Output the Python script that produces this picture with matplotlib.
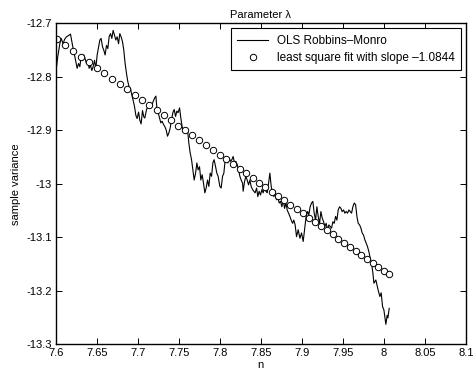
import matplotlib
matplotlib.use("Agg")
import matplotlib.pyplot as plt
from matplotlib.ticker import FuncFormatter

plt.rcParams['font.family'] = ['Liberation Sans', 'DejaVu Sans']
plt.rcParams['axes.unicode_minus'] = False

# OLS Robbins-Monro trace (log n, sample variance)
rm_x = [7.6009, 7.6024, 7.6049, 7.6065, 7.6089, 7.6106, 7.6130, 7.6162, 7.6179, 7.6195,
        7.6211, 7.6228, 7.6244, 7.6260, 7.6277, 7.6293, 7.6309, 7.6326, 7.6341, 7.6357,
        7.6374, 7.6390, 7.6406, 7.6423, 7.6439, 7.6455, 7.6472, 7.6488, 7.6504, 7.6521,
        7.6537, 7.6552, 7.6570, 7.6585, 7.6601, 7.6618, 7.6634, 7.6650, 7.6667, 7.6683,
        7.6699, 7.6716, 7.6732, 7.6748, 7.6765, 7.6780, 7.6796, 7.6813, 7.6829, 7.6845,
        7.6862, 7.6878, 7.6894, 7.6911, 7.6927, 7.6943, 7.6960, 7.6976, 7.6991, 7.7009,
        7.7024, 7.7040, 7.7057, 7.7073, 7.7085, 7.7106, 7.7126, 7.7146, 7.7167, 7.7187,
        7.7207, 7.7220, 7.7232, 7.7248, 7.7265, 7.7280, 7.7296, 7.7313, 7.7329, 7.7345,
        7.7362, 7.7378, 7.7394, 7.7411, 7.7427, 7.7443, 7.7460, 7.7476, 7.7491, 7.7509,
        7.7524, 7.7540, 7.7557, 7.7573, 7.7589, 7.7606, 7.7622, 7.7638, 7.7655, 7.7671,
        7.7687, 7.7704, 7.7720, 7.7735, 7.7752, 7.7768, 7.7784, 7.7801, 7.7817, 7.7833,
        7.7850, 7.7866, 7.7882, 7.7899, 7.7915, 7.7930, 7.7948, 7.7963, 7.7979, 7.8000,
        7.8016, 7.8033, 7.8049, 7.8065, 7.8082, 7.8098, 7.8113, 7.8130, 7.8146, 7.8162,
        7.8179, 7.8195, 7.8211, 7.8228, 7.8244, 7.8260, 7.8277, 7.8284, 7.8301, 7.8317,
        7.8333, 7.8350, 7.8366, 7.8382, 7.8399, 7.8415, 7.8430, 7.8448, 7.8463, 7.8479,
        7.8496, 7.8512, 7.8528, 7.8545, 7.8561, 7.8577, 7.8594, 7.8610, 7.8626, 7.8643,
        7.8659, 7.8674, 7.8691, 7.8707, 7.8723, 7.8740, 7.8756, 7.8772, 7.8789, 7.8805,
        7.8821, 7.8838, 7.8854, 7.8870, 7.8887, 7.8902, 7.8918, 7.8935, 7.8955, 7.8976,
        7.8996, 7.9016, 7.9037, 7.9052, 7.9070, 7.9085, 7.9101, 7.9118, 7.9134, 7.9150,
        7.9167, 7.9183, 7.9199, 7.9216, 7.9232, 7.9248, 7.9265, 7.9280, 7.9296, 7.9313,
        7.9329, 7.9345, 7.9362, 7.9378, 7.9394, 7.9411, 7.9427, 7.9443, 7.9460, 7.9476,
        7.9491, 7.9509, 7.9524, 7.9540, 7.9557, 7.9573, 7.9589, 7.9606, 7.9622, 7.9638,
        7.9655, 7.9671, 7.9687, 7.9704, 7.9720, 7.9735, 7.9752, 7.9768, 7.9784, 7.9801,
        7.9817, 7.9833, 7.9850, 7.9866, 7.9878, 7.9902, 7.9930, 7.9951, 7.9967, 7.9984,
        8.0000, 8.0012, 8.0024, 8.0040, 8.0049, 8.0065]
rm_y = [-12.781, -12.762, -12.738, -12.728, -12.738, -12.730, -12.725, -12.722, -12.720, -12.734,
        -12.747, -12.759, -12.772, -12.784, -12.775, -12.781, -12.762, -12.769, -12.759, -12.766,
        -12.775, -12.769, -12.784, -12.778, -12.788, -12.781, -12.769, -12.784, -12.759, -12.744,
        -12.731, -12.728, -12.744, -12.750, -12.759, -12.741, -12.747, -12.725, -12.719, -12.728,
        -12.713, -12.722, -12.731, -12.725, -12.738, -12.719, -12.725, -12.734, -12.750, -12.775,
        -12.794, -12.809, -12.819, -12.822, -12.834, -12.844, -12.856, -12.872, -12.878, -12.866,
        -12.881, -12.888, -12.863, -12.875, -12.877, -12.861, -12.855, -12.852, -12.855, -12.846,
        -12.839, -12.836, -12.858, -12.867, -12.877, -12.886, -12.883, -12.889, -12.893, -12.899,
        -12.911, -12.905, -12.896, -12.880, -12.867, -12.861, -12.874, -12.864, -12.867, -12.858,
        -12.877, -12.893, -12.902, -12.896, -12.902, -12.899, -12.924, -12.942, -12.955, -12.974,
        -12.993, -12.980, -12.961, -12.974, -12.968, -12.993, -12.983, -12.999, -13.017, -13.008,
        -12.993, -13.005, -12.980, -12.986, -12.961, -12.955, -12.968, -12.980, -12.986, -13.005,
        -13.008, -12.986, -12.980, -12.955, -12.949, -12.961, -12.952, -12.958, -12.955, -12.949,
        -12.961, -12.958, -12.964, -12.974, -12.986, -12.993, -12.999, -13.014, -12.996, -12.986,
        -12.993, -13.002, -12.993, -13.005, -13.011, -13.014, -13.017, -13.008, -13.024, -13.014,
        -13.021, -13.011, -13.017, -13.005, -13.014, -13.017, -12.999, -12.980, -13.005, -13.017,
        -13.024, -13.014, -13.030, -13.024, -13.036, -13.033, -13.043, -13.030, -13.046, -13.036,
        -13.049, -13.055, -13.061, -13.068, -13.074, -13.068, -13.077, -13.099, -13.086, -13.102,
        -13.092, -13.108, -13.080, -13.061, -13.052, -13.058, -13.043, -13.036, -13.033, -13.055,
        -13.068, -13.043, -13.061, -13.074, -13.052, -13.064, -13.071, -13.080, -13.074, -13.086,
        -13.077, -13.080, -13.083, -13.071, -13.074, -13.061, -13.068, -13.049, -13.043, -13.046,
        -13.052, -13.049, -13.055, -13.052, -13.055, -13.049, -13.052, -13.055, -13.043, -13.036,
        -13.039, -13.061, -13.074, -13.077, -13.083, -13.092, -13.096, -13.105, -13.111, -13.118,
        -13.127, -13.139, -13.149, -13.167, -13.186, -13.180, -13.199, -13.211, -13.204, -13.230,
        -13.236, -13.249, -13.263, -13.246, -13.251, -13.233]

# least square fit points (log n, fitted value)
fit_x = [7.6009, 7.6109, 7.6207, 7.6305, 7.6401, 7.6497, 7.6592, 7.6686, 7.6779, 7.6871,
         7.6962, 7.7053, 7.7142, 7.7231, 7.7319, 7.7407, 7.7493, 7.7579, 7.7664, 7.7749,
         7.7832, 7.7915, 7.7998, 7.8079, 7.8160, 7.8240, 7.8320, 7.8399, 7.8478, 7.8555,
         7.8633, 7.8709, 7.8785, 7.8861, 7.8936, 7.9010, 7.9084, 7.9157, 7.9230, 7.9302,
         7.9374, 7.9445, 7.9516, 7.9586, 7.9655, 7.9725, 7.9793, 7.9862, 7.9929, 7.9997,
         8.0064]
fit_y = [-12.7300, -12.7408, -12.7515, -12.7621, -12.7725, -12.7829, -12.7932, -12.8034, -12.8135, -12.8235,
         -12.8334, -12.8432, -12.8529, -12.8625, -12.8721, -12.8816, -12.8910, -12.9003, -12.9095, -12.9186,
         -12.9277, -12.9367, -12.9456, -12.9545, -12.9633, -12.9720, -12.9806, -12.9892, -12.9977, -13.0061,
         -13.0145, -13.0228, -13.0311, -13.0392, -13.0474, -13.0554, -13.0634, -13.0714, -13.0793, -13.0871,
         -13.0949, -13.1026, -13.1103, -13.1179, -13.1254, -13.1329, -13.1404, -13.1478, -13.1551, -13.1624,
         -13.1697]

x_ticks = [7.6, 7.65, 7.7, 7.75, 7.8, 7.85, 7.9, 7.95, 8, 8.05, 8.1]
y_ticks = [-13.3, -13.2, -13.1, -13, -12.9, -12.8, -12.7]

fig = plt.figure(figsize=(4.73, 3.72), dpi=100)
ax = fig.add_axes([0.118, 0.075, 0.867, 0.862])

ax.plot(rm_x, rm_y, color='black', linewidth=0.8, label='OLS Robbins\u2013Monro')
ax.plot(fit_x, fit_y, linestyle='none', marker='o', markersize=4.6, markerfacecolor='white',
        markeredgecolor='black', markeredgewidth=0.7,
        label='least square fit with slope \u20131.0844')

ax.set_xlim(7.6, 8.1)
ax.set_ylim(-13.3, -12.7)
ax.set_xticks(x_ticks)
ax.set_yticks(y_ticks)
fmt = FuncFormatter(lambda v, p: '%g' % round(v, 4))
ax.xaxis.set_major_formatter(fmt)
ax.yaxis.set_major_formatter(fmt)
ax.tick_params(direction='in', top=True, right=True, length=4, width=0.7,
               labelsize=8, pad=3)
for s in ax.spines.values():
    s.set_linewidth(1.0)

ax.set_title('Parameter \u03bb', fontsize=8, pad=4)
ax.set_xlabel('n', fontsize=8, labelpad=1)
ax.set_ylabel('sample variance', fontsize=8, labelpad=4)

leg = ax.legend(loc='upper right', fontsize=8.5, handlelength=2.6, handletextpad=0.75,
                fancybox=False, edgecolor='black', framealpha=1,
                borderaxespad=0.4, borderpad=0.55, labelspacing=0.45)
leg.get_frame().set_linewidth(0.8)

fig.savefig('out.png', dpi=100)
